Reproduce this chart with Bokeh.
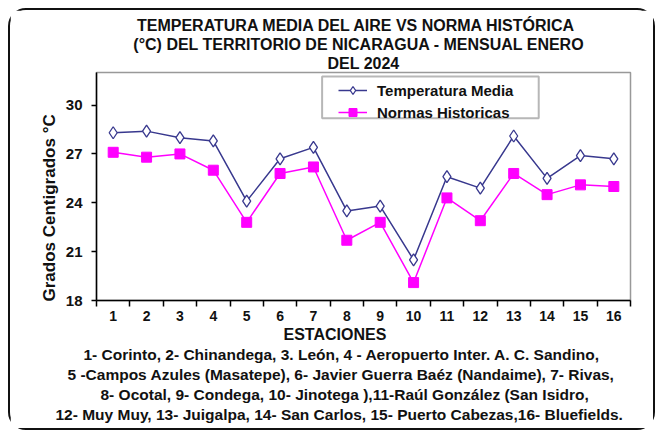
from bokeh.plotting import figure
from bokeh.models import FixedTicker, Legend, LegendItem, Range1d, BoxAnnotation, Title
from bokeh.embed import file_html
from bokeh.resources import INLINE

# ---------------- data ----------------
stations = list(range(1, 17))
station_labels = [str(s) for s in stations]
temp_media = [28.3, 28.4, 28.0, 27.8, 24.1, 26.7, 27.4, 23.5, 23.8, 20.5,
              25.6, 24.9, 28.1, 25.5, 26.9, 26.7]
normas = [27.1, 26.8, 27.0, 26.0, 22.8, 25.8, 26.2, 21.7, 22.8, 19.1,
          24.3, 22.9, 25.8, 24.5, 25.1, 25.0]
y_ticks = [18, 21, 24, 27, 30]
y_title = "Grados Centigrados °C"

title_lines = [
    "TEMPERATURA  MEDIA DEL AIRE  VS NORMA  HISTÓRICA",
    "(°C) DEL TERRITORIO DE NICARAGUA   - MENSUAL ENERO",
    "DEL 2024",
]
bottom_lines = [
    "ESTACIONES",
    "1- Corinto,  2- Chinandega,  3. León, 4 - Aeropuerto Inter. A. C. Sandino,",
    "5 -Campos Azules (Masatepe), 6- Javier Guerra Baéz (Nandaime), 7- Rivas,",
    "8- Ocotal, 9- Condega, 10- Jinotega ),11-Raúl  González  (San Isidro,",
    "12- Muy Muy, 13- Juigalpa, 14- San Carlos, 15- Puerto Cabezas,16- Bluefields.",
]

SANS = "Liberation Sans, Arial, sans-serif"
BLUE = "#38388E"
MAG = "#FF00FF"
INK = "#111111"

p = figure(width=647, height=422, output_backend="svg", toolbar_location=None,
           x_range=Range1d(0.5, 16.5), y_range=Range1d(18, 32),
           min_border_left=86, min_border_right=27,
           min_border_top=62, min_border_bottom=132)
p.styles = {"margin-left": "8px", "margin-top": "8px",
            "border": "2px solid #111", "border-radius": "18px"}
p.title.visible = False
p.xgrid.visible = False
p.ygrid.visible = False
p.outline_line_color = "#999999"
p.outline_line_width = 1.5
p.background_fill_color = "white"
p.border_fill_color = "white"

# axes
p.xaxis.ticker = FixedTicker(ticks=stations,
                             minor_ticks=[s - 0.5 for s in stations] + [16.5])
p.xaxis.major_label_overrides = {s: l for s, l in zip(stations, station_labels)}
p.xaxis.major_tick_line_color = None
p.xaxis.major_tick_out = 6
p.xaxis.major_tick_in = 0
p.xaxis.minor_tick_out = 6
p.xaxis.minor_tick_in = 0
p.xaxis.minor_tick_line_color = "black"
p.xaxis.minor_tick_line_width = 1.5
p.xaxis.axis_line_color = "black"
p.xaxis.axis_line_width = 1.5
p.xaxis.major_label_text_font = SANS
p.xaxis.major_label_text_font_style = "bold"
p.xaxis.major_label_text_font_size = "14px"
p.xaxis.major_label_text_color = INK
p.xaxis.major_label_standoff = 4

p.yaxis.ticker = FixedTicker(ticks=y_ticks, minor_ticks=[])
p.yaxis.major_tick_out = 5
p.yaxis.major_tick_in = 0
p.yaxis.major_tick_line_width = 1.5
p.yaxis.axis_line_width = 1.5
p.yaxis.major_label_text_font = SANS
p.yaxis.major_label_text_font_style = "bold"
p.yaxis.major_label_text_font_size = "15px"
p.yaxis.major_label_text_color = INK
p.yaxis.major_label_standoff = 9

# y-axis title as a side title so it can start at the bottom of the frame
p.add_layout(Title(text=y_title, align="left", offset=-1, standoff=8,
                   text_font=SANS, text_font_style="bold",
                   text_font_size="17px", text_color=INK), "left")

# legend box
p.add_layout(BoxAnnotation(left=7.26, right=13.75, top=31.75, bottom=29.19,
                           fill_color="white", fill_alpha=1.0,
                           line_color=INK, line_width=2, level="overlay"))

# series
r1 = p.line(stations, temp_media, line_color=BLUE, line_width=1.5)
s1 = p.scatter(stations, temp_media, marker="diamond", size=12,
               fill_color="white", line_color=BLUE, line_width=1.3)
r2 = p.line(stations, normas, line_color=MAG, line_width=1.5)
s2 = p.scatter(stations, normas, marker="square", size=10,
               fill_color=MAG, line_color=MAG)

legend = Legend(items=[LegendItem(label="Temperatura Media", renderers=[r1, s1]),
                       LegendItem(label="Normas Historicas", renderers=[r2, s2])],
                location=(242, 178), padding=0, margin=0, spacing=2,
                glyph_width=29, glyph_height=20, label_height=20,
                label_standoff=10, border_line_alpha=0, background_fill_alpha=0,
                label_text_font=SANS, label_text_font_style="bold",
                label_text_font_size="15px", label_text_color=INK)
p.add_layout(legend)

# titles above (first added sits nearest the plot)
title_standoff = [1, 0, 0]
for txt, so in zip(reversed(title_lines), title_standoff):
    p.add_layout(Title(text=txt, align="center", standoff=so,
                       text_font=SANS, text_font_style="bold",
                       text_font_size="16px", text_color=INK), "above")

# station notes below
bottom_left = [283, 83, 67, 100, 55]
bottom_size = ["16px", "15.5px", "15.5px", "15.5px", "15.5px"]
for txt, lx, fs in zip(bottom_lines, bottom_left, bottom_size):
    p.add_layout(Title(text=txt, align="left", offset=lx - 96, standoff=1,
                       text_font=SANS, text_font_style="bold",
                       text_font_size=fs, text_color=INK), "below")

open("out.html", "w").write(file_html(p, INLINE))
